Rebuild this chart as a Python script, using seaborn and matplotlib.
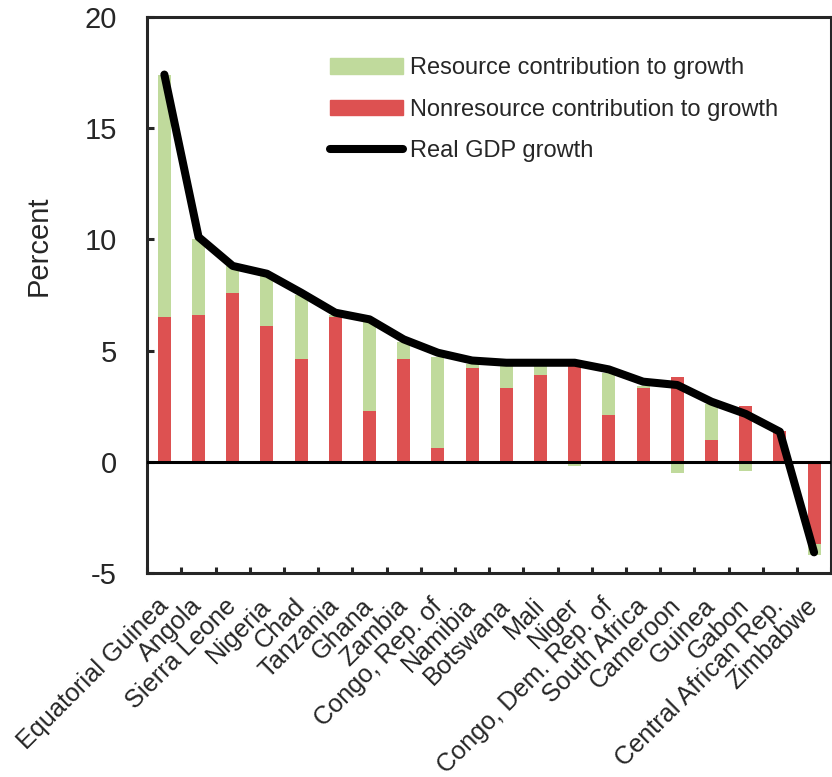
import numpy as np
import pandas as pd
import matplotlib
matplotlib.use("Agg")
import matplotlib.pyplot as plt
import matplotlib.transforms as mtransforms
from matplotlib.patches import Patch
from matplotlib.lines import Line2D
import seaborn as sns

# data (percent)
countries = ["Equatorial Guinea", "Angola", "Sierra Leone", "Nigeria", "Chad",
             "Tanzania", "Ghana", "Zambia", "Congo, Rep. of", "Namibia",
             "Botswana", "Mali", "Niger", "Congo, Dem. Rep. of", "South Africa",
             "Cameroon", "Guinea", "Gabon", "Central African Rep.", "Zimbabwe"]
nonresource = [6.5, 6.6, 7.6, 6.1, 4.6, 6.5, 2.3, 4.6, 0.6, 4.2,
               3.3, 3.9, 4.3, 2.1, 3.3, 3.8, 1.0, 2.5, 1.4, -3.7]
resource = [10.9, 3.4, 1.2, 2.3, 2.9, 0.1, 4.0, 0.8, 4.1, 0.2,
            1.0, 0.4, -0.2, 1.9, 0.1, -0.5, 1.6, -0.4, -0.1, -0.5]
gdp_growth = [17.4, 10.1, 8.8, 8.45, 7.6, 6.7, 6.4, 5.5, 4.9, 4.55,
              4.45, 4.45, 4.45, 4.15, 3.6, 3.45, 2.7, 2.15, 1.35, -4.07]

df = pd.DataFrame({"country": countries, "nonresource": nonresource,
                   "resource": resource, "gdp": gdp_growth})
# stacked: resource sits on nonresource when same sign, otherwise from zero
same_sign = np.sign(df["resource"]) == np.sign(df["nonresource"])
df["resource_top"] = np.where(same_sign, df["resource"] + df["nonresource"], df["resource"])

green = "#C0DA9C"
red = "#DD5151"

sns.set_style("ticks")
plt.rcParams["font.family"] = ["Liberation Sans", "DejaVu Sans"]
plt.rcParams["axes.unicode_minus"] = False

fig = plt.figure(figsize=(8.32, 7.77), dpi=100)
ax = fig.add_axes([0.177, 0.2625, 0.822, 0.716])

sns.barplot(data=df, x="country", y="resource_top", order=countries, color=green,
            saturation=1, width=0.38, linewidth=0, ax=ax)
sns.barplot(data=df, x="country", y="nonresource", order=countries, color=red,
            saturation=1, width=0.38, linewidth=0, ax=ax)
ax.axhline(0, color="black", lw=2.2, zorder=3)
sns.lineplot(data=df, x="country", y="gdp", sort=False, color="black", lw=5.8,
             solid_capstyle="round", solid_joinstyle="round", zorder=4, ax=ax)

ax.set_ylim(-5, 20)
ax.set_yticks([-5, 0, 5, 10, 15, 20])
ax.set_xlim(-0.5, len(countries) - 0.5)
ax.set_xticks(range(len(countries)))
ax.set_xticklabels(countries, rotation=45, ha="right", va="center",
                   rotation_mode="anchor", fontsize=18.2)
shift = mtransforms.ScaledTranslation(11 / 100, 0, fig.dpi_scale_trans)
for lab in ax.get_xticklabels():
    lab.set_transform(lab.get_transform() + shift)
ax.set_xticks(np.arange(-0.5, len(countries)), minor=True)
ax.tick_params(axis="x", which="major", length=0, pad=21)
ax.tick_params(axis="x", which="minor", direction="in", length=4.5, width=2.2)
ax.tick_params(axis="y", direction="in", length=5, width=2.2, pad=22, labelsize=21)
for s in ax.spines.values():
    s.set_linewidth(2.2)
    s.set_visible(True)

ax.set_xlabel("")
ax.set_ylabel("Percent", fontsize=21)
ax.yaxis.set_label_coords(-0.139, 0.589)

handles = [Patch(color=green), Patch(color=red),
           Line2D([], [], color="black", lw=5.8, solid_capstyle="round")]
labels = ["Resource contribution to growth", "Nonresource contribution to growth",
          "Real GDP growth"]
ax.legend(handles, labels, loc="upper left", bbox_to_anchor=(0.2527, 0.944),
          frameon=False, fontsize=17, handlelength=3.1, handleheight=0.64,
          labelspacing=0.83, handletextpad=0.3, borderaxespad=0)

fig.savefig("out.png", dpi=100)
